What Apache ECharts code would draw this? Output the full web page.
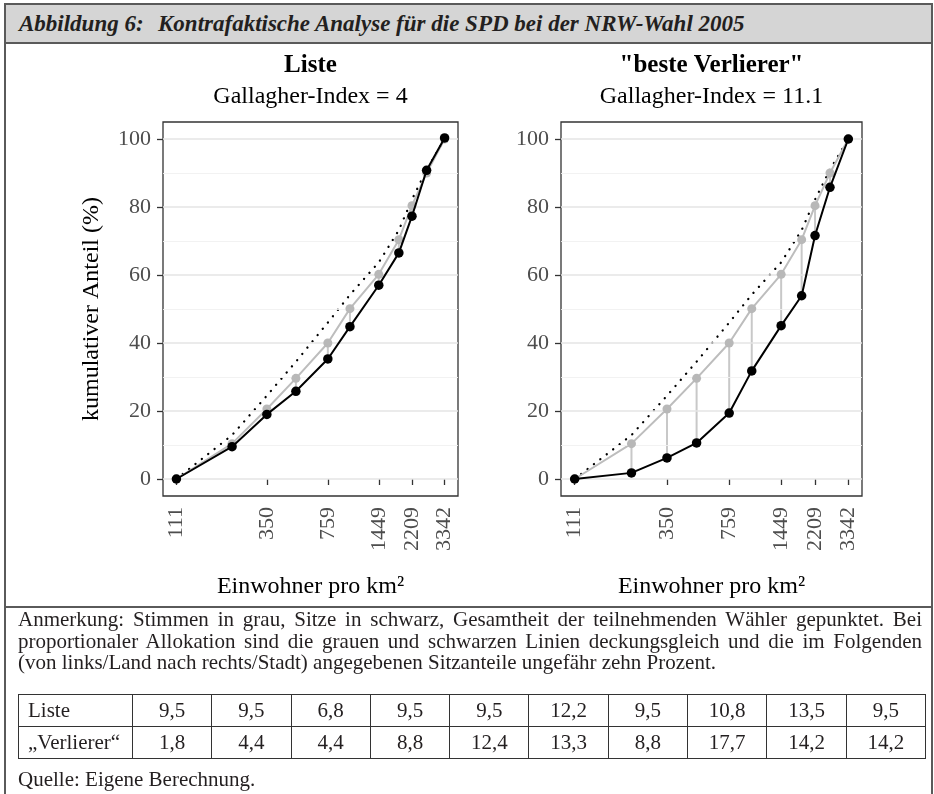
<!DOCTYPE html>
<html><head><meta charset="utf-8">
<script src="https://cdn.jsdelivr.net/npm/echarts@6/dist/echarts.min.js"></script>
<style>
html,body{margin:0;padding:0;background:#fff;}
body{width:934px;height:794px;position:relative;overflow:hidden;font-family:"Liberation Serif","DejaVu Serif",serif;color:#231f20;}
#frame{position:absolute;left:4px;top:3px;width:929px;height:840px;border:2px solid #5a5a5a;box-sizing:border-box;}
#header{position:absolute;left:6px;top:5px;width:925px;height:37px;background:#d5d5d5;border-bottom:2px solid #5a5a5a;}
#header span{position:absolute;top:0;line-height:37px;font-style:italic;font-weight:bold;font-size:23px;white-space:nowrap;}
#chart{position:absolute;left:0;top:0;width:934px;height:606px;}
#divider{position:absolute;left:4px;top:606px;width:929px;height:2px;background:#5a5a5a;}
.note{position:absolute;left:18px;width:904px;font-size:21px;line-height:21.5px;white-space:nowrap;}
.just{text-align:justify;text-align-last:justify;white-space:normal;}
table{position:absolute;left:18px;top:694px;width:908px;table-layout:fixed;border-collapse:collapse;font-size:21px;}
td{border:1.5px solid #333;height:31px;padding:0;text-align:center;}
td.first{text-align:left;padding-left:9px;}
</style></head>
<body>
<div id="chart"></div>
<div id="frame"></div>
<div id="header"><span id="h1" style="left:13px">Abbildung 6:</span><span id="h2" style="left:152px">Kontrafaktische Analyse für die SPD bei der NRW-Wahl 2005</span></div>
<div id="divider"></div>
<div class="note just" style="top:609px">Anmerkung: Stimmen in grau, Sitze in schwarz, Gesamtheit der teilnehmenden Wähler gepunktet. Bei</div>
<div class="note just" style="top:631px">proportionaler Allokation sind die grauen und schwarzen Linien deckungsgleich und die im Folgenden</div>
<div class="note" style="top:652px">(von links/Land nach rechts/Stadt) angegebenen Sitzanteile ungefähr zehn Prozent.</div>
<table id="tbl"><colgroup><col style="width:114px"><col><col><col><col><col><col><col><col><col><col></colgroup></table>
<div class="note" style="top:769px">Quelle: Eigene Berechnung.</div>
<script>
// ---- data ----
const densityPoints = [111, 225, 350, 506, 759, 1005, 1449, 1870, 2209, 2660, 3342];
const tickLabels = [111, 350, 759, 1449, 2209, 3342];
const votesCum = [0, 10.4, 20.6, 29.6, 40, 50.1, 60.2, 70.4, 80.4, 90, 100];
const votersCum = [0, 12.9, 24.5, 34.5, 46, 54.2, 63.7, 73.2, 82.2, 91, 100];
const seatsListe = [9.5, 9.5, 6.8, 9.5, 9.5, 12.2, 9.5, 10.8, 13.5, 9.5];
const seatsVerlierer = [1.8, 4.4, 4.4, 8.8, 12.4, 13.3, 8.8, 17.7, 14.2, 14.2];
const panelTitles = ['Liste', '"beste Verlierer"'];
const panelSubtitles = ['Gallagher-Index = 4', 'Gallagher-Index = 11.1'];
const rowNames = ['Liste', '\u201EVerlierer\u201C'];
const yTicks = [0, 20, 40, 60, 80, 100];
const yGrid = [0, 10, 20, 30, 40, 50, 60, 70, 80, 90, 100];

// ---- table ----
const tbl = document.getElementById('tbl');
[seatsListe, seatsVerlierer].forEach((row, r) => {
  const tr = document.createElement('tr');
  const th = document.createElement('td'); th.className = 'first'; th.textContent = rowNames[r]; tr.appendChild(th);
  row.forEach(v => { const td = document.createElement('td'); td.textContent = v.toFixed(1).replace('.', ','); tr.appendChild(td); });
  tbl.appendChild(tr);
});

// ---- chart ----
const FONT = '"Liberation Serif", "DejaVu Serif", serif';
const cum = arr => { let s = 0; return [0].concat(arr.map(v => Math.round((s += v) * 10) / 10)); };
const seatCums = [cum(seatsListe), cum(seatsVerlierer)];
const lx = densityPoints.map(Math.log10);
const lo = Math.log10(densityPoints[0]), hi = Math.log10(densityPoints[densityPoints.length - 1]);
const pad = (hi - lo) * 0.05;
const grids = [
  {left: 163, top: 122, width: 295, height: 374},
  {left: 561, top: 122, width: 301, height: 374}
];
const chart = echarts.init(document.getElementById('chart'), null, {renderer: 'canvas'});
const xAxes = [], yAxes = [], series = [], graphics = [];
grids.forEach((g, i) => {
  g.show = true; g.borderColor = '#333'; g.borderWidth = 1.3; g.backgroundColor = 'transparent'; g.containLabel = false;
  xAxes.push({
    type: 'value', gridIndex: i, min: lo - pad, max: hi + pad,
    axisLine: {show: false}, splitLine: {show: false},
    axisTick: {show: true, customValues: tickLabels.map(Math.log10), length: 6, lineStyle: {color: '#333', width: 1.3}},
    axisLabel: {customValues: tickLabels.map(Math.log10), rotate: 90, margin: 11, fontSize: 22, color: '#4d4d4d', fontFamily: FONT,
      formatter: v => String(Math.round(Math.pow(10, v)))},
    name: 'Einwohner pro km\u00B2', nameLocation: 'middle', nameGap: 79,
    nameTextStyle: {fontSize: 24, color: '#000', fontFamily: FONT}
  });
  yAxes.push({
    type: 'value', gridIndex: i, min: -5, max: 105,
    axisLine: {show: false}, splitLine: {show: false},
    axisTick: {show: true, customValues: yTicks, length: 6, lineStyle: {color: '#333', width: 1.3}},
    axisLabel: {customValues: yTicks, margin: 12, fontSize: 22, color: '#4d4d4d', fontFamily: FONT},
    name: i === 0 ? 'kumulativer Anteil (%)' : '', nameLocation: 'middle', nameGap: 59, nameRotate: 90,
    nameTextStyle: {fontSize: 24, color: '#000', fontFamily: FONT}
  });
  // grid lines
  series.push({
    type: 'line', xAxisIndex: i, yAxisIndex: i, data: [], z: 1, silent: true,
    markLine: {silent: true, symbol: 'none', label: {show: false}, animation: false,
      data: yGrid.map(v => ({yAxis: v, lineStyle: {type: 'solid', color: v % 20 === 0 ? '#e4e4e4' : '#f0f0f0', width: v % 20 === 0 ? 1.6 : 0.9}}))}
  });
  // total voters (dotted)
  series.push({
    type: 'line', xAxisIndex: i, yAxisIndex: i, z: 2, symbol: 'none',
    data: lx.map((x, k) => [x, votersCum[k]]),
    lineStyle: {color: '#000', width: 2.3, type: [0.1, 8], cap: 'round'}
  });
  // votes (grey) line
  series.push({
    type: 'line', xAxisIndex: i, yAxisIndex: i, z: 3, symbol: 'none',
    data: lx.map((x, k) => [x, votesCum[k]]),
    lineStyle: {color: '#bdbdbd', width: 2}
  });
  // vertical segments
  series.push({
    type: 'custom', xAxisIndex: i, yAxisIndex: i, z: 4,
    encode: {x: 0, y: [1, 2]},
    data: lx.map((x, k) => [x, votesCum[k], seatCums[i][k]]),
    renderItem: (params, api) => {
      const p1 = api.coord([api.value(0), api.value(1)]);
      const p2 = api.coord([api.value(0), api.value(2)]);
      return {type: 'line', shape: {x1: p1[0], y1: p1[1], x2: p2[0], y2: p2[1]}, style: {stroke: '#c8c8c8', lineWidth: 2}};
    }
  });
  // votes (grey) points
  series.push({
    type: 'scatter', xAxisIndex: i, yAxisIndex: i, z: 5, symbol: 'circle', symbolSize: 9,
    data: lx.map((x, k) => [x, votesCum[k]]),
    itemStyle: {color: '#b8b8b8', opacity: 1}
  });
  // seats (black)
  series.push({
    type: 'line', xAxisIndex: i, yAxisIndex: i, z: 6, symbol: 'none',
    data: lx.map((x, k) => [x, seatCums[i][k]]),
    lineStyle: {color: '#000', width: 2}
  });
  series.push({
    type: 'scatter', xAxisIndex: i, yAxisIndex: i, z: 7, symbol: 'circle', symbolSize: 9.5,
    data: lx.map((x, k) => [x, seatCums[i][k]]),
    itemStyle: {color: '#000', opacity: 1}
  });
  const cx = g.left + g.width / 2;
  graphics.push({type: 'text', x: cx, y: 66, style: {text: panelTitles[i], font: 'bold 25px ' + FONT, fill: '#000', align: 'center', verticalAlign: 'middle'}});
  graphics.push({type: 'text', x: cx, y: 97, style: {text: panelSubtitles[i], font: '24px ' + FONT, fill: '#000', align: 'center', verticalAlign: 'middle'}});
});
chart.setOption({
  animation: false,
  grid: grids, xAxis: xAxes, yAxis: yAxes, series: series, graphic: graphics
});
</script>
</body></html>
